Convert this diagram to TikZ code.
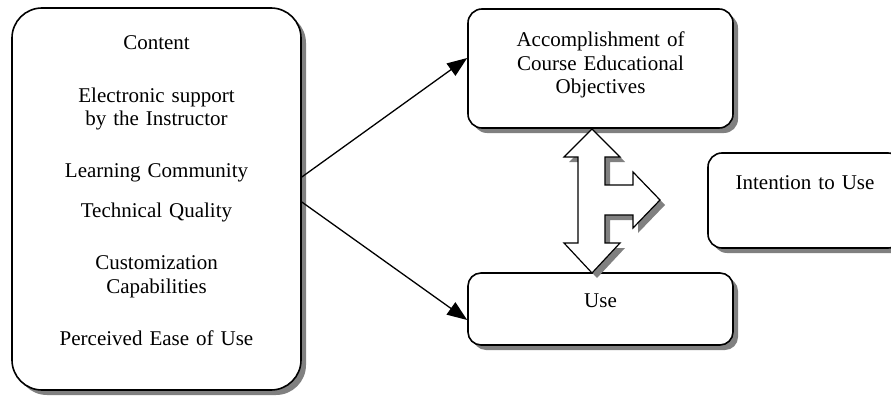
\documentclass[tikz,border=0pt]{standalone}
\usepackage{fontspec}
\setmainfont{Liberation Serif}
\usetikzlibrary{arrows.meta,shadows}
\tikzset{
  box/.style={draw, line width=1.6pt, fill=white, align=center, inner sep=0pt,
    drop shadow={shadow xshift=5pt, shadow yshift=-5pt, fill=black!50, opacity=1}},
  link/.style={line width=1.3pt, -{Triangle[length=20pt,width=15pt]}}
}
\begin{document}
\begin{tikzpicture}[x=1pt, y=-1pt, font=\fontsize{21}{23.5}\selectfont]
      \useasboundingbox (0,0) rectangle (891,396);
      \node[box, rounded corners=30pt, text width=289pt, text height=42pt, text depth=340pt]
        (content) at (156.5,199) {Content\\[28.5pt]
          Electronic support\\by the Instructor\\[28.5pt]
          Learning Community\\[16.5pt]
          Technical Quality\\[28.5pt]
          Customization\\Capabilities\\[28.5pt]
          Perceived Ease of Use};
      \node[box, rounded corners=14pt, text width=265pt, text height=38pt, text depth=81pt]
        (acc) at (600.5,68.5) {Accomplishment of\\Course Educational\\Objectives};
      \node[box, rounded corners=13pt, text width=265pt, text height=34pt, text depth=38pt]
        (use) at (600.5,309) {Use};
      \node[box, rounded corners=14pt, text width=194pt, text height=36pt, text depth=59pt]
        (intent) at (805,200.5) {Intention to Use};
      \begin{scope}
        \draw[link] ([yshift=22pt]content.east) -- ([yshift=10.5pt]acc.west);
        \draw[link] ([yshift=-3pt]content.east) -- ([yshift=-11pt]use.west);
      \end{scope}
      % three-way block arrow
      \draw[line width=1.2pt, fill=white,
        drop shadow={shadow xshift=5pt, shadow yshift=-5pt, fill=black!50, opacity=1}]
        (592,129) -- (620,157) -- (605,157) -- (605,185) -- (633,185) -- (633,172)
        -- (660,200) -- (633,228) -- (633,215) -- (605,215) -- (605,243) -- (620,243)
        -- (592,273) -- (564,243) -- (578,243) -- (578,157) -- (564,157) -- cycle;
    \end{tikzpicture}
\end{document}
